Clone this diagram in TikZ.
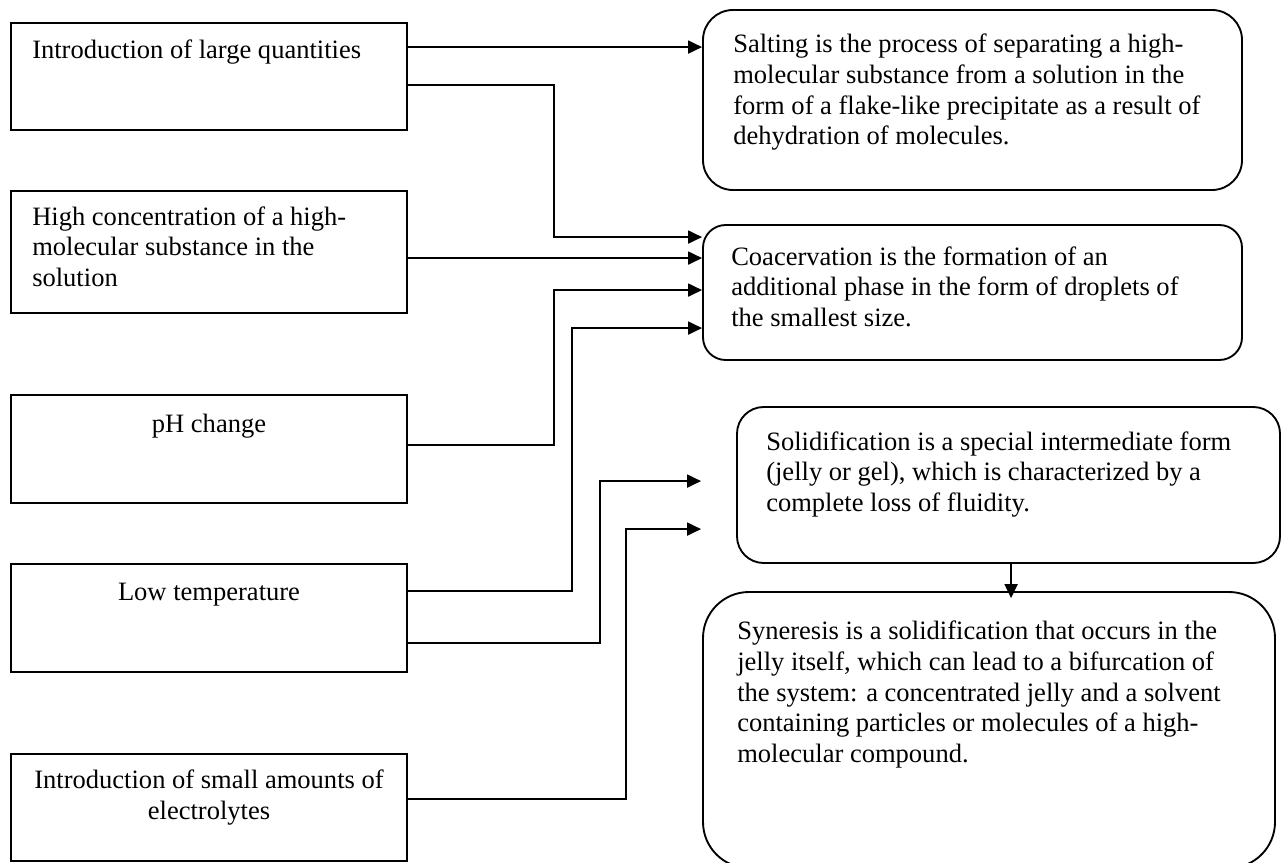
\documentclass[tikz,border=0pt]{standalone}
\usepackage{fontspec}
\setmainfont{Liberation Serif}
\usetikzlibrary{arrows.meta,calc}
\begin{document}
\begin{tikzpicture}[x=0.75pt,y=-0.75pt,
  box/.style={draw,line width=1.4pt,inner sep=0pt},
  txt/.style={inner sep=0pt,font=\fontsize{19.9pt}{23pt}\selectfont},
  ln/.style={line width=1.4pt},
  arr/.style={line width=1.4pt,-{Triangle[length=10.5pt,width=9.75pt]}}]
\clip (0,0) rectangle (1281,863);
% left boxes
\node[box,minimum width=297pt,minimum height=80.25pt] (b1) at (209,76.5) {};
\node[box,minimum width=297pt,minimum height=91.5pt] (b2) at (209,252) {};
\node[box,minimum width=297pt,minimum height=81pt] (b3) at (209,449) {};
\node[box,minimum width=297pt,minimum height=81pt] (b4) at (209,618) {};
\node[box,minimum width=297pt,minimum height=80.25pt] (b5) at (209,807.5) {};
% right boxes
\node[box,rounded corners=22.5pt,minimum width=404.25pt,minimum height=135pt] (salt) at (972.5,100) {};
\node[box,rounded corners=17pt,minimum width=404.25pt,minimum height=101.25pt] (coac) at (972.5,292.5) {};
\node[box,rounded corners=20pt,minimum width=407.25pt,minimum height=117pt] (solid) at (1008.5,485) {};
\node[box,rounded corners=34.5pt,minimum width=429pt,minimum height=207pt] (syner) at (989,730) {};
% texts (anchor at baseline of last line)
\node[txt,anchor=base west,align=left] (t1) at (32,59) {Introduction of large quantities};
\node[txt,anchor=base west,align=left] (t2) at (32,286.5) {High concentration of a high-\\molecular substance in the\\solution};
\node[txt,anchor=base] (t3) at (209,432) {pH change};
\node[txt,anchor=base] (t4) at (209,600) {Low temperature};
\node[txt,anchor=base,align=center] (t5) at (209,819) {Introduction of small amounts of\\electrolytes};
\node[txt,anchor=base west,align=left] (ts) at (733,145) {Salting is the process of separating a high-\\molecular substance from a solution in the\\form of a flake-like precipitate as a result of\\dehydration of molecules.};
\node[txt,anchor=base west,align=left] (tc) at (731,326.5) {Coacervation is the formation of an\\additional phase in the form of droplets of\\the smallest size.};
\node[txt,anchor=base west,align=left] (tso) at (766,511.5) {Solidification is a special intermediate form\\(jelly or gel), which is characterized by a\\complete loss of fluidity.};
\node[txt,anchor=base west,align=left] (tsy) at (737,762.5) {Syneresis is a solidification that occurs in the\\jelly itself, which can lead to a bifurcation of\\the system: a concentrated jelly and a solvent\\containing particles or molecules of a high-\\molecular compound.};
% connector coordinates
\coordinate (p1) at ($(b1.north east)+(0,25)$);
\coordinate (p2) at ($(b1.north east)+(0,63)$);
\coordinate (p3) at ($(b2.north east)+(0,68)$);
\coordinate (p4) at ($(b3.north east)+(0,51)$);
\coordinate (p5) at ($(b4.north east)+(0,28)$);
\coordinate (p6) at ($(b4.north east)+(0,80)$);
\coordinate (p7) at ($(b5.north east)+(0,46)$);
\coordinate (k2) at ($(coac.north west)+(-148,13)$);
\coordinate (k4) at ($(coac.north west)+(-148,66)$);
\coordinate (k5) at ($(coac.north west)+(-130,104)$);
\coordinate (e6) at ($(solid.north west)+(-35,75)$);
\coordinate (k6) at ($(e6)+(-101,0)$);
\coordinate (e7) at ($(solid.north west)+(-35,123)$);
\coordinate (k7) at ($(e7)+(-75,0)$);
\coordinate (d1) at ($(solid.south west)+(275,0)$);
% connectors
\draw[arr] (p1) -- (p1 -| salt.west);
\draw[arr] (p2) -| (k2) -- (k2 -| coac.west);
\draw[arr] (p3) -- (p3 -| coac.west);
\draw[arr] (p4) -| (k4) -- (k4 -| coac.west);
\draw[arr] (p5) -| (k5) -- (k5 -| coac.west);
\draw[arr] (p6) -| (k6) -- (e6);
\draw[arr] (p7) -| (k7) -- (e7);
\draw[arr] (d1) -- ($(d1 |- syner.north)+(0,7)$);
\end{tikzpicture}
\end{document}
